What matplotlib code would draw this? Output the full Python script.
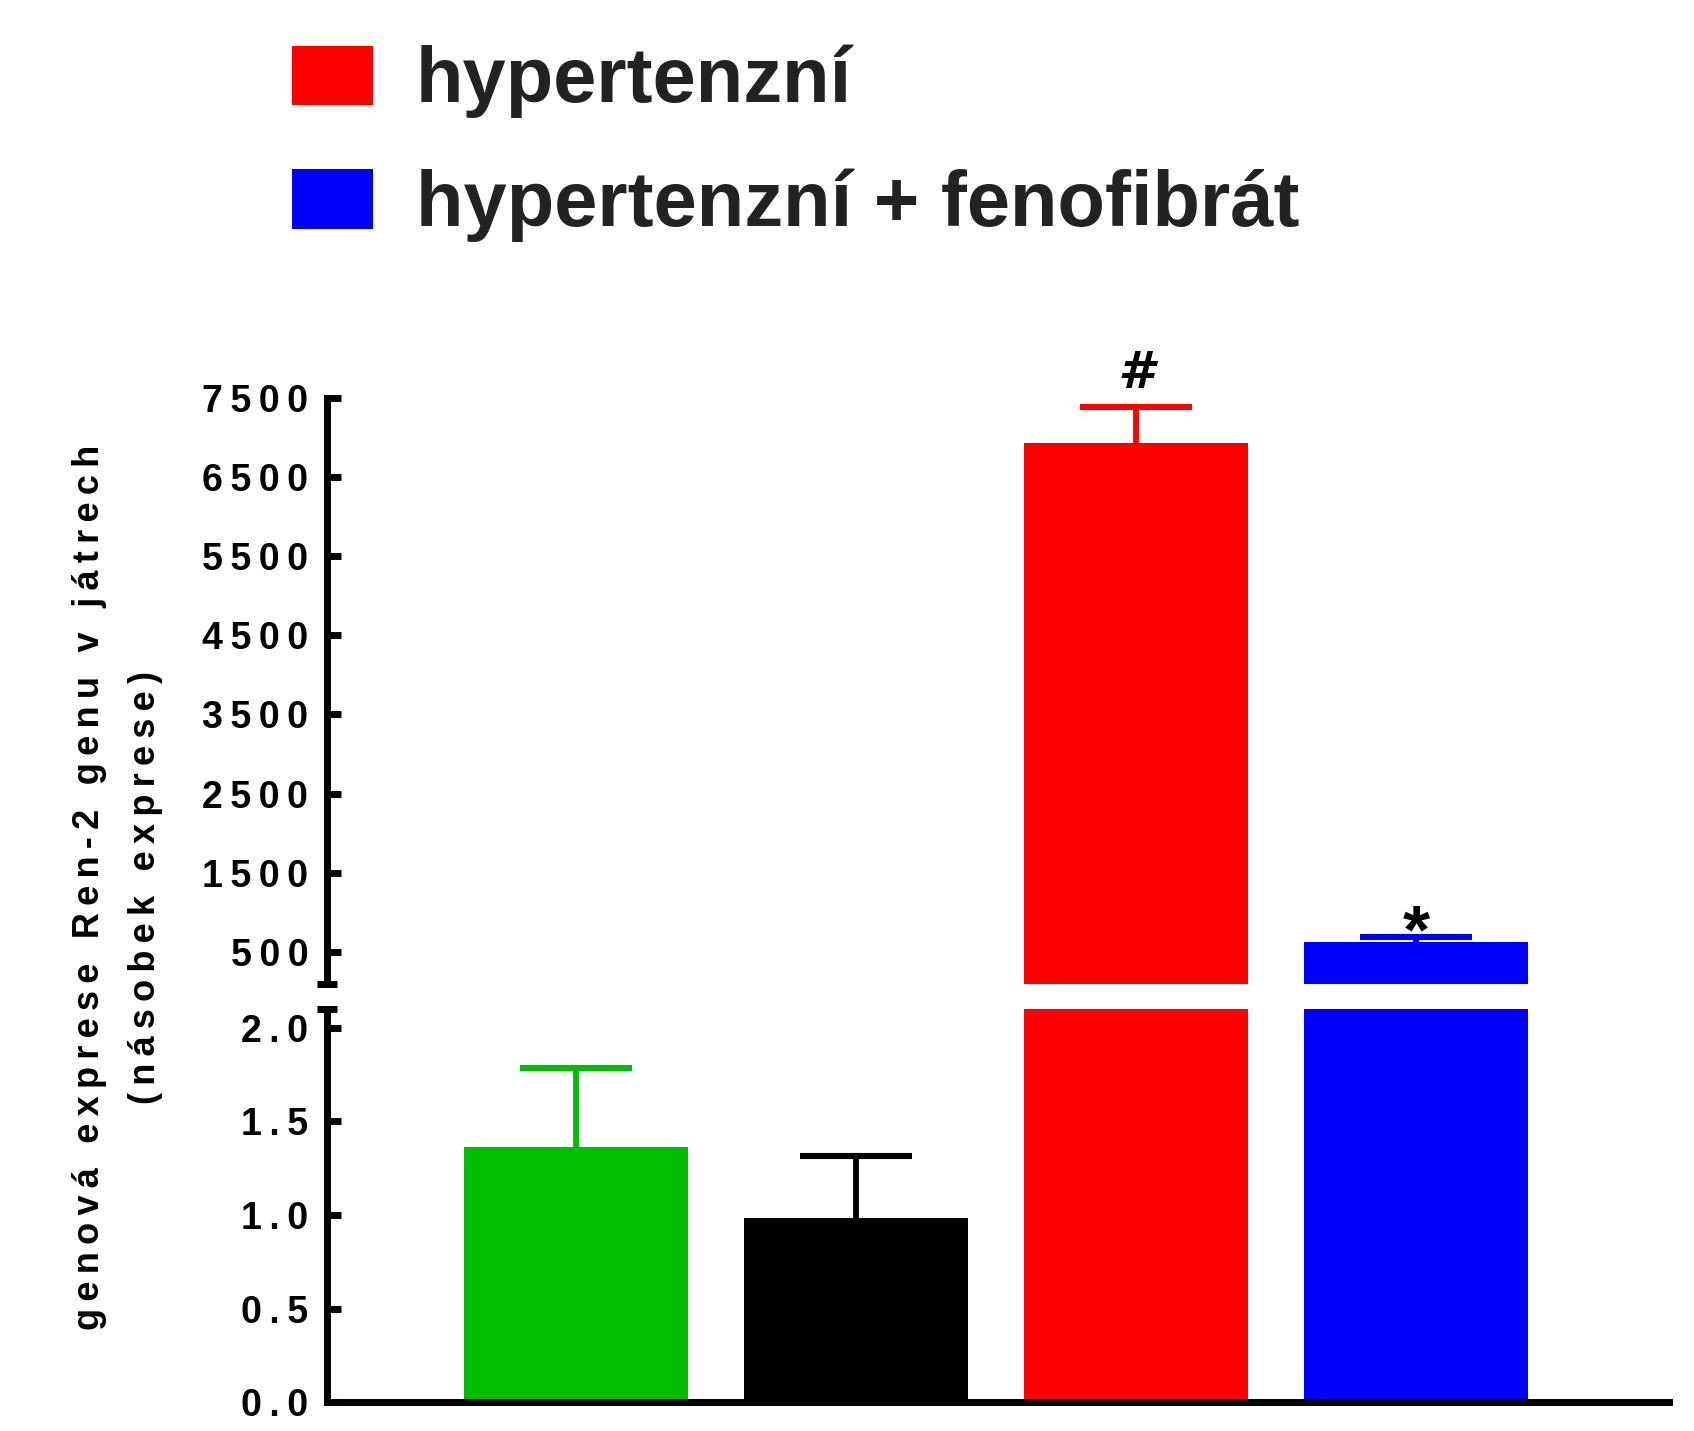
import matplotlib
matplotlib.use("Agg")
import matplotlib.pyplot as plt

# ---- data ----
groups = ["kontrola", "kontrola 2", "hypertenzní", "hypertenzní + fenofibrát"]
values = [1.362, 0.985, 6927, 626]
err_up = [0.422, 0.331, 451, 64]
bar_colors = ["#00BF00", "#000000", "#FF0000", "#0000FF"]
marks = {2: "#", 3: "*"}

legend_labels = ["hypertenzní", "hypertenzní + fenofibrát"]
top_ticks = [500, 1500, 2500, 3500, 4500, 5500, 6500, 7500]
top_tick_labels = ["500", "1500", "2500", "3500", "4500", "5500", "6500", "7500"]
low_ticks = [0.0, 0.5, 1.0, 1.5, 2.0]
low_tick_labels = ["0.0", "0.5", "1.0", "1.5", "2.0"]
ylabel_lines = ["genová exprese Ren-2 genu v játrech", "(násobek exprese)"]

plt.rcParams["font.family"] = ["Liberation Sans", "DejaVu Sans"]
plt.rcParams["font.weight"] = "bold"

LW = 5.0  # axis line width in points
W, H = 1694, 1431
fig = plt.figure(figsize=(W / 100, H / 100), dpi=100)

x0, x1 = 327 / W, 1669 / W
ax_top = fig.add_axes([x0, (H - 983.7) / H, x1 - x0, (983.7 - 397.6) / H])
ax_low = fig.add_axes([x0, (H - 1402.4) / H, x1 - x0, (1402.4 - 1009) / H])

xs = list(range(len(values)))


def spaced(s, sep="\u2009"):
    return sep.join(s)


handles = []
for ax in (ax_top, ax_low):
    bars = ax.bar(xs, values, width=0.8, color=bar_colors, zorder=2)
    for i in xs:
        _, caps, _ = ax.errorbar(xs[i], values[i], yerr=[[0], [err_up[i]]],
                                 fmt="none", ecolor=bar_colors[i],
                                 elinewidth=4.2, capsize=40, capthick=4.4,
                                 zorder=1)
        caps[0].set_visible(False)  # no cap at the bar top
    ax.set_xlim(-0.891, 3.905)
    ax.set_xticks([])
    for side in ("top", "right"):
        ax.spines[side].set_visible(False)
    ax.spines["left"].set_linewidth(LW)
    ax.spines["bottom"].set_linewidth(LW)
    ax.tick_params(axis="y", direction="in", length=10, width=LW,
                   labelsize=27, pad=13.5)
    ax.tick_params(axis="y", which="minor", direction="inout", length=14,
                   width=LW)
    handles.append(bars)

# upper segment
ax_top.set_ylim(100, 7500)
ax_top.spines["bottom"].set_visible(False)
ax_top.set_yticks(top_ticks)
ax_top.set_yticklabels([spaced(t) for t in top_tick_labels])
ax_top.set_yticks([100], minor=True)

# lower segment
ax_low.set_ylim(0, 2.1)
ax_low.set_yticks(low_ticks)
ax_low.set_yticklabels([spaced(t) for t in low_tick_labels])
ax_low.set_yticks([2.1], minor=True)

for i, m in marks.items():
    top = values[i] + err_up[i]
    if m == "#":
        ax_top.annotate(m, (xs[i], top), xytext=(0, 24),
                        textcoords="offset points", ha="center", va="center",
                        fontsize=37, fontweight="bold",
                        family="DejaVu Sans", fontstyle="oblique")
    else:
        ax_top.annotate(m, (xs[i], top), xytext=(0, 2),
                        textcoords="offset points", ha="center", va="center",
                        fontsize=50, fontweight="bold")

fig.text(117.5 / W, (H - 887) / H,
         "\n".join(spaced(l) for l in ylabel_lines),
         rotation=90, ha="center", va="center", multialignment="center",
         fontsize=26, fontweight="bold", linespacing=1.8)

red_h = handles[0].patches[2]
blue_h = handles[0].patches[3]
fig.legend([red_h, blue_h], legend_labels, loc="upper left",
           bbox_to_anchor=(292 / W, 1 - 45 / H), frameon=False,
           prop={"size": 56, "weight": "bold"}, labelcolor="#222222",
           handlelength=1.04, handleheight=0.8, handletextpad=0.55,
           labelspacing=0.64, borderpad=0, borderaxespad=0)

fig.savefig("out.png", dpi=100)
